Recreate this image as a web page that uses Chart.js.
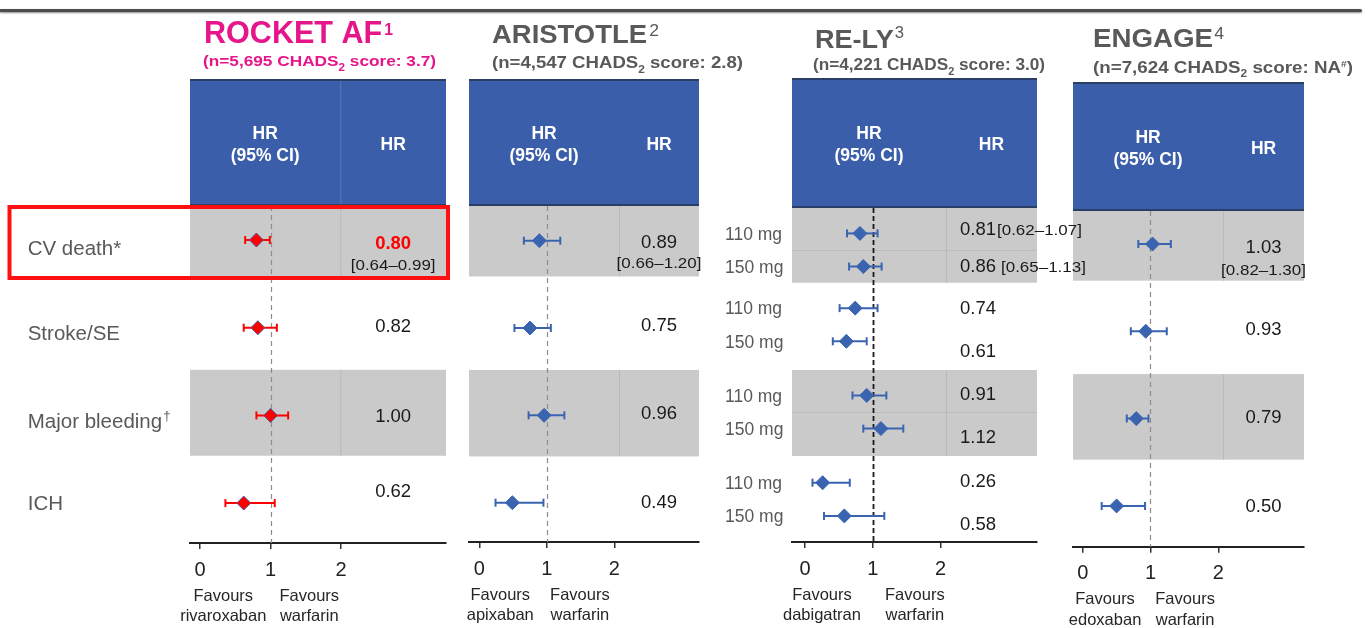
<!DOCTYPE html>
<html>
<head>
<meta charset="utf-8">
<script src="https://cdn.jsdelivr.net/npm/chart.js@4.4.1/dist/chart.umd.min.js"></script>
<style>
  html, body { margin: 0; padding: 0; background: #fff; }
  #stage { position: relative; width: 1370px; height: 628px; overflow: hidden; }
  #stage canvas { position: absolute; left: 0; top: 0; }
  .rule { position: absolute; left: 0; top: 9px; width: 1362px; height: 3px; background: #4d4d4d;
          box-shadow: 0 1px 2px rgba(0,0,0,.45); border-radius: 0 2px 2px 0; }
</style>
</head>
<body>
<div id="stage">
  <div class="rule"></div>
  <canvas id="rocket" width="1370" height="628"></canvas>
  <canvas id="aristotle" width="1370" height="628"></canvas>
  <canvas id="engage" width="1370" height="628"></canvas>
  <canvas id="rely" width="1370" height="628"></canvas>
</div>
<script>
const W = 1370, H = 628, AXIS_H = 40;
const FONT = '"Liberation Sans", Arial, sans-serif';
Chart.defaults.font.family = FONT;

// rows and axis
const outcomes = ['CV death*', 'Stroke/SE', 'Major bleeding', 'ICH'];
const tickValues = [0, 1, 2];
const doses = ['110 mg', '150 mg'];

// ROCKET AF - rivaroxaban vs warfarin
const rocketHR = [0.80, 0.82, 1.00, 0.62];
const rocketLo = [0.64, 0.62, 0.80, 0.36];
const rocketHi = [0.99, 1.09, 1.25, 1.06];

// ARISTOTLE - apixaban vs warfarin
const aristotleHR = [0.89, 0.75, 0.96, 0.49];
const aristotleLo = [0.66, 0.52, 0.73, 0.24];
const aristotleHi = [1.20, 1.06, 1.26, 0.95];

// RE-LY - dabigatran 110 / 150 mg vs warfarin
const rely110HR = [0.81, 0.74, 0.91, 0.26];
const rely110Lo = [0.62, 0.51, 0.70, 0.11];
const rely110Hi = [1.07, 1.07, 1.20, 0.66];
const rely150HR = [0.86, 0.61, 1.12, 0.58];
const rely150Lo = [0.65, 0.41, 0.86, 0.28];
const rely150Hi = [1.13, 0.91, 1.45, 1.17];

// ENGAGE - edoxaban vs warfarin
const engageHR = [1.03, 0.93, 0.79, 0.50];
const engageLo = [0.82, 0.71, 0.65, 0.28];
const engageHi = [1.30, 1.24, 0.97, 0.92];

const MAGENTA = '#e6168a';
const GREY_TXT = '#595959';
const DARK_TXT = '#1a1a1a';
const BLUE = '#3a64b0';
const RED = '#ff0000';
const HEADER_BLUE = '#3a5ea9';
const HEADER_EDGE = '#2b3f66';
const BAND = '#cacaca';

const SUBF = 'bold 15.5px';
const SUBF_GREY = 'bold 16.5px';

function subtitleParts(count, score, f) {
  return [['(n=' + count + ' CHADS', f], ['2', 'bold 10.5px', 4.5], [' score: ' + score + ')', f]];
}

const panels = [
  {
    key: 'rocket',
    series: [{ hr: rocketHR, lo: rocketLo, hi: rocketHi, offset: 0 }],
    color: RED, edge: '#4a5fa8',
    area: { left: 190, right: 446, top: 206, bottom: 543 },
    xRange: [-0.142, 3.489], yRange: [-0.388, 3.455],
    rowPos: [0, 1, 2, 3],
    bands: [[-0.388, 0.42], [1.48, 2.46]],
    headerTop: 79, divider: 1.99, headerDivider: true,
    refLine: { color: '#8c8c8c', width: 1.2, dash: [5, 4] },
    title: { x: 204, y: 43.3, w: 189, color: MAGENTA, parts: [['ROCKET AF', 'bold 31px'], ['1', 'bold 16px', -8.3, 2]] },
    subtitle: { x: 203, y: 66, w: 233, color: MAGENTA, parts: subtitleParts('5,695', '3.7', SUBF) },
    hrShift: [[0.03, -0.03, 0, -0.15]], ciShift: 0.285, highlight: 0,
    favours: [['Favours', 'rivaroxaban', 0.33], ['Favours', 'warfarin', 1.55]],
    rowLabels: true, redBox: true
  },
  {
    key: 'aristotle',
    series: [{ hr: aristotleHR, lo: aristotleLo, hi: aristotleHi, offset: 0 }],
    color: BLUE, edge: BLUE,
    area: { left: 469, right: 699, top: 206, bottom: 542 },
    xRange: [-0.153, 3.255], yRange: [-0.397, 3.45],
    rowPos: [0, 1, 2, 3],
    bands: [[-0.397, 0.41], [1.48, 2.47]],
    headerTop: 79, divider: 2.07,
    refLine: { color: '#8c8c8c', width: 1.2, dash: [5, 4] },
    title: { x: 492, y: 43.3, w: 167, color: GREY_TXT, parts: [['ARISTOTLE', 'bold 25px'], ['2', '16px', -7.3, 2]] },
    subtitle: { x: 492, y: 68, w: 251, color: GREY_TXT, parts: subtitleParts('4,547', '2.8', SUBF_GREY) },
    hrShift: [[0.01, -0.04, -0.03, -0.02]], ciShift: 0.25,
    favours: [['Favours', 'apixaban', 0.31], ['Favours', 'warfarin', 1.49]]
  },
  {
    key: 'engage',
    series: [{ hr: engageHR, lo: engageLo, hi: engageHi, offset: 0 }],
    color: BLUE, edge: BLUE,
    area: { left: 1073, right: 1304, top: 211, bottom: 546.7 },
    xRange: [-0.143, 3.264], yRange: [-0.378, 3.467],
    rowPos: [0, 1, 2, 3],
    bands: [[-0.378, 0.42], [1.49, 2.47]],
    headerTop: 82, divider: 2.07,
    refLine: { color: '#8c8c8c', width: 1.2, dash: [5, 4] },
    title: { x: 1093, y: 47.3, w: 131, color: GREY_TXT, parts: [['ENGAGE', 'bold 25px'], ['4', '16px', -8.3, 1]] },
    subtitle: { x: 1093, y: 72.5, w: 260, color: GREY_TXT,
      parts: [['(n=7,624 CHADS', SUBF_GREY], ['2', 'bold 10.5px', 4.5], [' score: NA', SUBF_GREY], ['#', 'bold 9px', -6], [')', SUBF_GREY]] },
    hrShift: [[0.03, -0.03, -0.02, -0.01]], ciShift: 0.29,
    favours: [['Favours', 'edoxaban', 0.33], ['Favours', 'warfarin', 1.51]]
  },
  {
    key: 'rely',
    series: [
      { hr: rely110HR, lo: rely110Lo, hi: rely110Hi, offset: -0.19, gap: 1 },
      { hr: rely150HR, lo: rely150Lo, hi: rely150Hi, offset: 0.19, gap: 5 }
    ],
    color: BLUE, edge: BLUE,
    area: { left: 792, right: 1037, top: 208, bottom: 542 },
    xRange: [-0.192, 3.422], yRange: [-0.337, 3.489],
    rowPos: [0.144, 1, 2, 3],
    bands: [[-0.337, 0.519], [1.519, 2.504]],
    bandSplit: true,
    headerTop: 78, divider: 2.08,
    refLine: { color: '#1a1a1a', width: 1.8, dash: [5, 3] },
    title: { x: 815, y: 47.5, w: 89, color: GREY_TXT, parts: [['RE-LY', 'bold 26px'], ['3', '16px', -10, 1]] },
    subtitle: { x: 813, y: 70, w: 232, color: GREY_TXT, parts: subtitleParts('4,221', '3.0', SUBF_GREY) },
    hrShift: [[-0.061, -0.008, -0.026, -0.031], [-0.011, 0.103, 0.084, 0.084]],
    hrLeft: 14, inlineCI: true,
    favours: [['Favours', 'dabigatran', 0.25], ['Favours', 'warfarin', 1.62]],
    doseLabels: true
  }
];

// draws a run of text pieces (superscripts, subscripts) with an optional horizontal stretch
function drawRun(ctx, spec) {
  ctx.save();
  ctx.fillStyle = spec.color;
  ctx.textBaseline = 'alphabetic';
  ctx.textAlign = 'left';
  let natural = 0;
  spec.parts.forEach(([t, f, dy, dx]) => {
    ctx.font = f + ' ' + FONT;
    natural += ctx.measureText(t).width + (dx || 0);
  });
  const sx = spec.w ? spec.w / natural : (spec.sx || 1);
  const total = natural * sx;
  const x0 = spec.align === 'center' ? spec.x - total / 2 : spec.align === 'right' ? spec.x - total : spec.x;
  ctx.translate(x0, spec.y);
  ctx.scale(sx, 1);
  let cx = 0;
  spec.parts.forEach(([t, f, dy, dx]) => {
    ctx.font = f + ' ' + FONT;
    cx += dx || 0;
    ctx.fillText(t, cx, dy || 0);
    cx += ctx.measureText(t).width;
  });
  ctx.restore();
  return total;
}

function ciText(lo, hi) {
  return '[' + lo.toFixed(2) + '\u2013' + hi.toFixed(2) + ']';
}

function decor(p) {
  return {
    id: 'decor_' + p.key,
    beforeDraw(chart) {
      const { ctx, chartArea: a, scales: { x, y } } = chart;
      const divPx = x.getPixelForValue(p.divider);
      ctx.save();
      // blue table header
      ctx.fillStyle = HEADER_BLUE;
      ctx.fillRect(a.left, p.headerTop, a.right - a.left, a.top - p.headerTop);
      ctx.fillStyle = HEADER_EDGE;
      ctx.fillRect(a.left, p.headerTop, a.right - a.left, 2);
      ctx.fillRect(a.left, a.top - 2, a.right - a.left, 2);
      if (p.headerDivider) {
        ctx.fillStyle = 'rgba(255,255,255,0.18)';
        ctx.fillRect(divPx, p.headerTop + 2, 1, a.top - p.headerTop - 4);
      }
      // shaded outcome rows
      p.bands.forEach(([b0, b1]) => {
        const t = y.getPixelForValue(b0), b = y.getPixelForValue(b1);
        ctx.fillStyle = BAND;
        ctx.fillRect(a.left, t, a.right - a.left, b - t);
        ctx.fillStyle = '#b9b9b9';
        ctx.fillRect(divPx, t, 1, b - t);
      });
      if (p.bandSplit) {
        ctx.fillStyle = '#bcbcbc';
        [0, 2].forEach(i => {
          ctx.fillRect(a.left, Math.round(y.getPixelForValue(p.rowPos[i])), a.right - a.left, 1);
        });
      }
      ctx.restore();
    },
    beforeDatasetsDraw(chart) {
      const { ctx, chartArea: a, scales: { x } } = chart;
      const px = Math.round(x.getPixelForValue(1)) + 0.5;
      ctx.save();
      ctx.strokeStyle = p.refLine.color;
      ctx.lineWidth = p.refLine.width;
      ctx.setLineDash(p.refLine.dash);
      ctx.beginPath();
      ctx.moveTo(px, a.top);
      ctx.lineTo(px, a.bottom);
      ctx.stroke();
      ctx.restore();
    },
    afterDraw(chart) {
      const { ctx, chartArea: a, scales: { x, y } } = chart;
      drawRun(ctx, p.title);
      drawRun(ctx, p.subtitle);

      // header captions
      const divPx = x.getPixelForValue(p.divider);
      const hc = (p.headerTop + a.top) / 2 + 1;
      const leftC = (a.left + divPx) / 2, rightC = (divPx + a.right) / 2;
      const hf = 'bold 17.5px', hb = 6.3;
      drawRun(ctx, { x: leftC, y: hc - 11 + hb, color: '#fff', align: 'center', parts: [['HR', hf]] });
      drawRun(ctx, { x: leftC, y: hc + 11 + hb, color: '#fff', align: 'center', parts: [['(95% CI)', hf]] });
      drawRun(ctx, { x: rightC, y: hc + hb, color: '#fff', align: 'center', parts: [['HR', hf]] });

      // HR values
      p.series.forEach((s, si) => {
        s.hr.forEach((v, i) => {
          const yc = y.getPixelForValue(p.rowPos[i] + s.offset + p.hrShift[si][i]);
          const strong = p.highlight === i;
          const spec = {
            y: yc + 6.6, color: strong ? RED : DARK_TXT,
            parts: [[v.toFixed(2), (strong ? 'bold ' : '') + '18.5px']]
          };
          if (p.inlineCI) {
            spec.x = divPx + p.hrLeft;
            const w = drawRun(ctx, spec);
            if (i === 0) {
              drawRun(ctx, { x: spec.x + w + s.gap, y: yc + 6.6, sx: 1.13, color: DARK_TXT, parts: [[ciText(s.lo[i], s.hi[i]), '15px']] });
            }
          } else {
            spec.x = rightC; spec.align = 'center';
            drawRun(ctx, spec);
            if (i === 0) {
              const cy = y.getPixelForValue(p.rowPos[i] + p.ciShift);
              drawRun(ctx, { x: rightC, y: cy + 5.4, sx: 1.13, align: 'center', color: DARK_TXT, parts: [[ciText(s.lo[i], s.hi[i]), '15px']] });
            }
          }
        });
      });

      // outcome names on the far left
      if (p.rowLabels) {
        const shift = [0.09, 0.05, 0.06, -0.01];
        outcomes.forEach((name, i) => {
          const yc = y.getPixelForValue(p.rowPos[i] + shift[i]);
          const parts = i === 2 ? [[name, '20.5px'], ['\u2020', '13px', -8, 1]] : [[name, '20.5px']];
          drawRun(ctx, { x: 27.7, y: yc + 7.4, color: GREY_TXT, parts });
        });
      }

      // dose labels for the two dabigatran arms
      if (p.doseLabels) {
        p.rowPos.forEach(r => {
          p.series.forEach((s, si) => {
            const yc = y.getPixelForValue(r + s.offset);
            drawRun(ctx, { x: 725, y: yc + 6.3, color: GREY_TXT, parts: [[doses[si], '17.5px']] });
          });
        });
      }

      // favours captions under the axis
      p.favours.forEach(([l1, l2, fx]) => {
        const cx = x.getPixelForValue(fx);
        drawRun(ctx, { x: cx, y: a.bottom + 52 + 5.5, color: '#262626', align: 'center', parts: [[l1, '16.5px']] });
        drawRun(ctx, { x: cx, y: a.bottom + 72.5 + 5.5, color: '#262626', align: 'center', parts: [[l2, '16.5px']] });
      });

      if (p.redBox) {
        ctx.save();
        ctx.strokeStyle = '#ff1010';
        ctx.lineWidth = 4;
        ctx.strokeRect(9.5, 207, 438.5, 71);
        ctx.restore();
      }
    }
  };
}

function buildDatasets(p) {
  const sets = [];
  p.series.forEach(s => {
    s.hr.forEach((v, i) => {
      const yy = p.rowPos[i] + s.offset;
      sets.push({
        data: [{ x: s.lo[i], y: yy }, { x: s.hi[i], y: yy }],
        showLine: true, borderColor: p.color, borderWidth: 2,
        pointStyle: 'line', pointRotation: 90, pointRadius: 4,
        pointBorderColor: p.color, pointBorderWidth: 2, order: 1
      });
    });
    sets.push({
      data: s.hr.map((v, i) => ({ x: v, y: p.rowPos[i] + s.offset })),
      showLine: false, pointStyle: 'rectRot', pointRadius: 7,
      pointBackgroundColor: p.color, pointBorderColor: p.edge, pointBorderWidth: 1, order: 0
    });
  });
  return sets;
}

panels.forEach(p => {
  new Chart(document.getElementById(p.key), {
    type: 'scatter',
    data: { datasets: buildDatasets(p) },
    options: {
      responsive: false,
      animation: false,
      events: [],
      layout: {
        padding: { left: p.area.left, right: W - p.area.right, top: p.area.top, bottom: H - p.area.bottom - AXIS_H }
      },
      plugins: { legend: { display: false }, tooltip: { enabled: false } },
      scales: {
        x: {
          type: 'linear',
          min: p.xRange[0], max: p.xRange[1],
          afterBuildTicks: scale => { scale.ticks = tickValues.map(v => ({ value: v })); },
          afterFit: scale => { scale.height = AXIS_H; },
          grid: { drawOnChartArea: false, drawTicks: true, tickLength: 6, color: '#333', lineWidth: 1.5 },
          border: { display: true, color: '#222', width: 2 },
          ticks: { font: { size: 20 }, color: '#222', padding: 9, maxRotation: 0 }
        },
        y: {
          type: 'linear', display: false, reverse: true,
          min: p.yRange[0], max: p.yRange[1]
        }
      }
    },
    plugins: [decor(p)]
  });
});
</script>
</body>
</html>
